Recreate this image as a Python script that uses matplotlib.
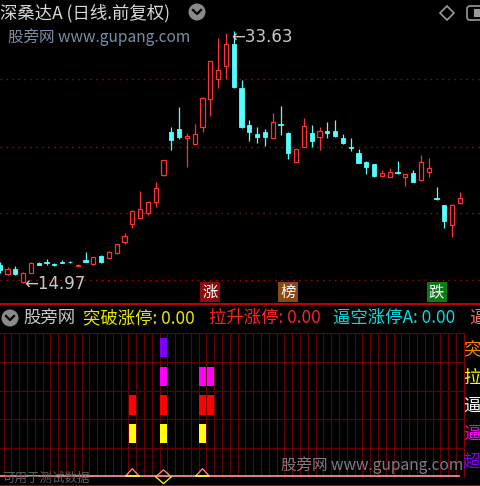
import matplotlib
matplotlib.use("Agg")
import matplotlib.pyplot as plt
import matplotlib.transforms as mtransforms
from matplotlib.patches import Rectangle, Circle, Polygon, FancyBboxPatch
from matplotlib.lines import Line2D
import numpy as np

plt.rcParams['font.family'] = ['Noto Sans CJK SC', 'DejaVu Sans']

# ---- daily OHLC (forward adjusted) ----
opens = [16.31, 15.64, 16.01, 15.04, 15.71, 16.49, 16.56, 16.38, 16.56, 16.54,
         16.27, 16.68, 16.38, 17.00, 16.80, 17.17, 17.99, 19.38, 19.79, 20.16,
         20.98, 22.98, 26.17, 26.39, 25.76, 25.28, 26.54, 28.62, 30.10, 31.07,
         32.70, 29.43, 26.69, 26.02, 26.17, 25.72, 26.76, 26.10, 23.95, 25.06,
         26.10, 25.80, 26.25, 26.25, 25.72, 25.06, 24.61, 23.95, 23.80, 22.91,
         22.83, 23.20, 22.87, 23.13, 22.61, 23.20, 21.25, 20.76, 19.27, 20.90]
highs = [16.53, 16.16, 16.23, 15.79, 16.50, 16.56, 16.75, 16.43, 16.68, 16.64,
         16.38, 17.25, 16.90, 17.02, 17.34, 17.90, 18.66, 20.35, 21.79, 21.02,
         22.46, 24.13, 26.54, 28.03, 26.10, 26.76, 28.73, 31.47, 33.14, 33.52,
         33.63, 30.03, 27.06, 26.54, 26.39, 27.58, 28.10, 26.17, 24.93, 27.21,
         26.69, 26.54, 26.91, 27.06, 26.02, 25.72, 24.91, 24.02, 23.82, 23.35,
         23.50, 24.02, 23.04, 23.35, 24.47, 24.24, 22.09, 20.78, 20.83, 21.72]
lows = [15.71, 15.56, 15.60, 14.97, 15.68, 16.31, 16.31, 16.25, 16.42, 16.42,
        16.23, 16.51, 16.34, 16.49, 16.79, 17.16, 17.86, 19.05, 19.72, 20.01,
        20.61, 22.91, 24.84, 25.65, 23.57, 25.24, 26.17, 27.36, 29.43, 30.10,
        29.47, 26.50, 25.50, 25.35, 25.13, 25.70, 25.95, 24.17, 23.93, 25.04,
        25.06, 24.84, 25.72, 25.80, 25.28, 24.76, 23.85, 23.06, 22.83, 22.89,
        22.81, 23.06, 22.17, 22.43, 22.58, 22.83, 21.13, 19.05, 18.38, 20.83]
closes = [15.93, 16.01, 15.64, 15.71, 16.45, 16.34, 16.49, 16.31, 16.49, 16.51,
          16.34, 16.51, 16.88, 16.51, 17.25, 17.86, 18.46, 20.31, 20.46, 20.98,
          22.02, 24.09, 25.58, 25.80, 25.91, 26.02, 28.69, 31.44, 30.77, 32.70,
          29.51, 26.54, 26.17, 25.80, 25.80, 26.91, 26.69, 24.61, 24.91, 26.61,
          25.50, 26.25, 26.13, 25.87, 25.35, 24.98, 23.87, 23.57, 22.91, 23.13,
          23.20, 23.13, 23.02, 22.46, 23.95, 23.50, 21.18, 19.57, 20.76, 21.28]

grid_levels = [30.10, 25.06, 20.16, 15.19]
high_idx, high_val = 30, 33.63
low_idx, low_val = 3, 14.97

# event tags on the price panel
tag_idx = [27, 37, 56]
tag_text = ['涨', '榜', '跌']
tag_color = ['#8a0c0c', '#8a4812', '#0c7a18']

# indicator rows (top to bottom) and the days on which each fires
row_colors = ['#8000ff', '#ff00ff', '#ff0000', '#ffff00']
row_days = [[21], [21, 26, 27], [17, 21, 26, 27], [17, 21, 26]]
tri_days = [17, 26]
diamond_days = [21]

header_items = [('突破涨停: 0.00', '#e8e800'),
                ('拉升涨停: 0.00', '#ff2020'),
                ('逼空涨停A: 0.00', '#00e0e0'),
                ('逼', '#ff7070')]
side_labels = [('突', '#ff8000'), ('拉', '#ffff00'), ('逼', '#ffffff'),
               ('逼', '#ff00ff'), ('超', '#8000ff')]

RED = '#ff3232'
CYAN = '#54ffff'
GRID_RED = '#660000'

W, H = 480, 486
fig = plt.figure(figsize=(W / 100, H / 100), dpi=100, facecolor='black')


def fx(px):
    return px / W


def fy(py):
    return 1 - py / H


step, x0 = 7.8, -0.3
xlim = ((0 - x0) / step, (W - x0) / step)

# ---------------- price panel ----------------
ax = fig.add_axes([0, fy(303), 1, 303 / H])
ax.set_facecolor('black')
ax.set_xlim(*xlim)
ax.set_ylim(13.49, 35.96)
ax.axis('off')

for lv in grid_levels:
    ax.axhline(lv, color='#a00000', lw=1.0, dashes=(1.2, 3.1))

bw = 0.56
for i, (o, h, l, c) in enumerate(zip(opens, highs, lows, closes)):
    if c >= o:
        ax.vlines(i, c, h, color=RED, lw=0.9)
        ax.vlines(i, l, o, color=RED, lw=0.9)
        ax.add_patch(Rectangle((i - bw / 2, o), bw, max(c - o, 0.04),
                               facecolor='black', edgecolor=RED, lw=0.9, zorder=3))
    else:
        ax.vlines(i, l, h, color=CYAN, lw=0.9)
        ax.add_patch(Rectangle((i - bw / 2, c), bw, o - c,
                               facecolor=CYAN, edgecolor=CYAN, lw=0.6, zorder=3))

ax.annotate('←' + f'{high_val:.2f}', xy=(high_idx, high_val), xytext=(-2.5, -6),
            textcoords='offset pixels', ha='left', va='center',
            color='#c8c8c8', fontsize=12, family='DejaVu Sans')
ax.annotate('←' + f'{low_val:.2f}', xy=(low_idx, low_val), xytext=(1, -0.5),
            textcoords='offset pixels', ha='left', va='center',
            color='#c8c8c8', fontsize=12, family='DejaVu Sans')

btrans = mtransforms.blended_transform_factory(ax.transData, ax.transAxes)
bh = 20 / 303
bwid = 20 / step
for i, t, col in zip(tag_idx, tag_text, tag_color):
    ax.add_patch(Rectangle((i - bwid / 2, 1 / 303), bwid, bh, transform=btrans,
                           facecolor=col, edgecolor='none', zorder=5, clip_on=False))
    ax.text(i, 1 / 303 + bh / 2, t, transform=btrans, ha='center', va='center',
            color='white', fontsize=11, zorder=6)

# ---------------- indicator panel ----------------
row_h = 28.75
ax2 = fig.add_axes([0, fy(333 + 5 * row_h), 1, 5 * row_h / H])
ax2.set_facecolor('black')
ax2.set_xlim(*xlim)
ax2.set_ylim(5, 0)
ax2.axis('off')

last = len(opens) - 1 + 0.5
for k in range(-1, len(opens) - 1):
    ax2.plot([k + 0.5, k + 0.5], [0, 5], color=GRID_RED, lw=0.75)
ax2.plot([last, last], [0, 5], color='#8a0000', lw=0.9)
for r in range(5):
    ax2.plot([xlim[0], last], [r, r], color=GRID_RED, lw=0.85)

for r, (col, days) in enumerate(zip(row_colors, row_days)):
    for d in days:
        ax2.add_patch(Rectangle((d - 0.44, r + 0.17), 0.88, 0.67,
                                facecolor=col, edgecolor='none', zorder=3))

ax2.plot([xlim[0], last - 0.6], [4.97, 4.97], color='#ff9a9a', lw=1.2, zorder=2)
for d in tri_days:
    ax2.plot([d - 0.85, d, d + 0.85], [4.97, 4.72, 4.97], color='#ff9090', lw=0.9, zorder=4)
    ax2.plot([d - 0.85, d + 0.85], [4.97, 4.97], color='#ffff00', lw=1.2, zorder=4)
for d in diamond_days:
    ax2.plot([d - 1.0, d, d + 1.0], [5.0, 4.76, 5.0], color='#ff9090', lw=0.9,
             zorder=4, clip_on=False)
    ax2.plot([d - 1.0, d, d + 1.0], [5.0, 5.24, 5.0], color='#ffff00', lw=0.9,
             zorder=4, clip_on=False)

fig.text(fx(2), fy(478), '可用于测试数据', color='#606060', fontsize=9,
         ha='left', va='center', zorder=1)

for (t, col), yy in zip(side_labels, [350, 378, 406, 434, 462]):
    fig.text(fx(463), fy(yy), t, color=col, fontsize=12.5, ha='left', va='center')

# ---------------- frame lines, headers, icons ----------------
fig.add_artist(Rectangle((0, fy(305)), 1, 2 / H, transform=fig.transFigure,
                         facecolor='#c00000', edgecolor='none'))
fig.add_artist(Rectangle((0, fy(486)), 1, 1.5 / H, transform=fig.transFigure,
                         facecolor='#a00000', edgecolor='none'))

fig.text(fx(0), fy(13), '深桑达A (日线.前复权)', color='#d8d8d8', fontsize=12.5,
         ha='left', va='center')
fig.text(fx(8), fy(37), '股旁网 www.gupang.com', color='#7a8ca6', fontsize=11.2,
         ha='left', va='center')
fig.text(fx(281), fy(465), '股旁网 www.gupang.com', color='#8a8a96', fontsize=11.2,
         ha='left', va='center', alpha=0.9)

ix = [83, 209, 333, 469]
fig.text(fx(23), fy(318), '股旁网', color='#c8c8c8', fontsize=12.5, ha='left', va='center')
for (t, col), xx in zip(header_items, ix):
    fig.text(fx(xx), fy(318), t, color=col, fontsize=12.5, ha='left', va='center')


def chevron_icon(cx, cy):
    r = 8.5
    circ = Circle((cx / 100, (H - cy) / 100), r / 100, transform=fig.dpi_scale_trans,
                  facecolor='#8a8a8a', edgecolor='none')
    fig.add_artist(circ)
    fig.add_artist(Line2D([(cx - 4) / W, cx / W, (cx + 4) / W],
                          [fy(cy - 2), fy(cy + 2), fy(cy - 2)],
                          transform=fig.transFigure, color='black', lw=1.6))


chevron_icon(197, 12)
chevron_icon(10, 318)

fig.add_artist(Polygon([(fx(447), fy(6)), (fx(454), fy(13)), (fx(447), fy(20)), (fx(440), fy(13))],
                       closed=True, transform=fig.transFigure, facecolor='none',
                       edgecolor='#9a9a9a', lw=1.2))
fig.add_artist(FancyBboxPatch((fx(467), fy(20)), 20 / W, 14 / H,
                              boxstyle='round,pad=0,rounding_size=0.006',
                              transform=fig.transFigure, facecolor='none',
                              edgecolor='#9a9a9a', lw=1.2))
fig.add_artist(Rectangle((fx(474), fy(17)), 8 / W, 8 / H, transform=fig.transFigure,
                         facecolor='#9a9a9a', edgecolor='none'))

fig.savefig('out.png', dpi=100, facecolor='black')
